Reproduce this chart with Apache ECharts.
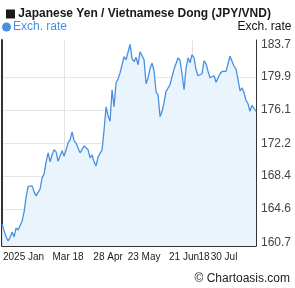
<!DOCTYPE html>
<html>
<head>
<meta charset="utf-8">
<script src="https://cdn.jsdelivr.net/npm/echarts@6/dist/echarts.min.js"></script>
<style>
  html, body { margin: 0; padding: 0; background: #fff; }
  #chart { width: 295px; height: 288px; }
</style>
</head>
<body>
<div id="chart"></div>
<script>
// exchange rate readings, one per point, left to right
var rates = [
  162.86, 162.05, 161.35, 160.89, 161.29, 161.93, 161.35, 162.40, 162.16, 162.05,
  163.21, 164.26, 166.00, 167.22, 167.28, 167.28, 166.58, 166.11, 166.52, 166.93,
  168.20, 168.67, 170.06, 171.11, 170.06, 170.88, 171.46, 171.22, 170.12, 169.95,
  171.34, 170.70, 171.46, 172.27, 172.62, 173.55, 172.50, 172.21, 172.44, 171.11,
  170.88, 171.92, 171.98, 171.46, 170.53, 170.88, 170.06, 169.60, 170.64, 170.70,
  171.46, 173.78, 176.45, 175.41, 174.77, 178.43, 176.45, 179.24, 179.67, 180.40,
  180.55, 182.26, 181.91, 182.03, 183.71, 182.03, 181.68, 182.20, 181.33, 182.84,
  182.78, 181.91, 179.12, 179.78, 180.92, 181.50, 180.63, 178.19, 177.84, 175.29,
  175.90, 176.95, 178.23, 178.11, 179.01, 179.97, 180.83, 180.67, 182.11, 181.83,
  180.28, 178.43, 180.92, 182.14, 181.56, 182.49, 182.14, 180.75, 180.05, 179.82,
  180.28, 181.79, 181.44, 180.57, 179.82, 179.82, 180.05, 179.30, 179.35, 180.28,
  180.55, 180.55, 180.55, 181.44, 182.32, 182.43, 181.15, 180.86, 179.59, 178.31,
  178.66, 178.08, 177.21, 176.80, 175.93, 176.62, 176.28, 175.93
];
var categories = rates.map(function (v, i) { return i; });

// x tick labels keyed by point index
var xTickIndex = [6, 17, 33, 53, 71, 91, 101, 111];
var xTickLabels = ['2025', 'Jan', 'Mar 18', '28 Apr', '23 May', '21 Jun', '18', '30 Jul'];
var xGridIndex = [31, 95];

var yTicks = [160.7, 164.6, 168.4, 172.2, 176.1, 179.9, 183.7];
var yMin = 160.3, yMax = 184.2;

var chart = echarts.init(document.getElementById('chart'));
var lineColor = '#4a90e2';

chart.setOption({
  animation: false,
  textStyle: { fontFamily: 'Arial, "Liberation Sans", sans-serif' },
  title: {
    text: '{sq|}{t| Japanese Yen / Vietnamese Dong (JPY/VND)}',
    left: 1,
    top: 3,
    textStyle: {
      rich: {
        sq: { backgroundColor: '#1a1a1a', width: 9, height: 9 },
        t: { fontSize: 12, fontWeight: 'bold', color: '#1a1a1a' }
      }
    }
  },
  legend: {
    left: 0,
    top: 21,
    icon: 'circle',
    itemWidth: 9,
    itemHeight: 9,
    itemGap: 4,
    padding: [0, 2, 0, 2],
    textStyle: { color: '#4a90e2', fontSize: 12, padding: [0, 0, 0, -3] },
    data: ['Exch. rate']
  },
  grid: { left: 1, right: 39, top: 40, bottom: 42, containLabel: false },
  xAxis: {
    type: 'category',
    boundaryGap: false,
    data: categories,
    axisLine: { show: true, lineStyle: { color: '#333', width: 1 } },
    axisTick: { show: false },
    axisLabel: {
      color: '#222',
      fontSize: 10,
      margin: 6,
      hideOverlap: false,
      interval: function (index) { return xTickIndex.indexOf(index) >= 0; },
      formatter: function (value, index) {
        var k = xTickIndex.indexOf(index);
        return k >= 0 ? xTickLabels[k] : '';
      }
    },
    splitLine: {
      show: true,
      interval: function (index) { return xGridIndex.indexOf(index) >= 0; },
      lineStyle: { color: '#e3e3e3', width: 1 }
    }
  },
  yAxis: [
    {
      type: 'value',
      position: 'right',
      min: yMin,
      max: yMax,
      name: 'Exch. rate',
      nameLocation: 'end',
      nameGap: 7,
      nameTextStyle: { color: '#111', fontSize: 12, align: 'center', padding: [0, 0, 0, 17] },
      axisLine: { show: true, lineStyle: { color: '#333', width: 1 } },
      axisTick: { show: false, customValues: yTicks },
      axisLabel: {
        customValues: yTicks,
        color: '#444',
        fontSize: 12,
        margin: 5,
        formatter: function (v) { return v.toFixed(1); }
      },
      splitLine: {
        show: true,
        lineStyle: { color: ['transparent', '#e6e6e6', '#e6e6e6', '#e6e6e6', '#e6e6e6', '#e6e6e6', 'transparent'], width: 1 }
      }
    },
    {
      type: 'value',
      position: 'left',
      min: yMin,
      max: yMax,
      axisLine: { show: true, lineStyle: { color: '#333', width: 2 } },
      axisTick: { show: false },
      axisLabel: { show: false },
      splitLine: { show: false }
    }
  ],
  series: [
    {
      name: 'Exch. rate',
      type: 'line',
      data: rates,
      symbol: 'none',
      itemStyle: { color: lineColor },
      lineStyle: { color: lineColor, width: 1.3 },
      areaStyle: { color: '#eaf4fd', opacity: 1, origin: 'start' }
    }
  ],
  graphic: [
    {
      type: 'text',
      right: 5,
      bottom: 3,
      style: { text: '© Chartoasis.com', fill: '#222', fontSize: 12, fontFamily: 'Arial, "Liberation Sans", sans-serif' }
    }
  ]
});
</script>
</body>
</html>
